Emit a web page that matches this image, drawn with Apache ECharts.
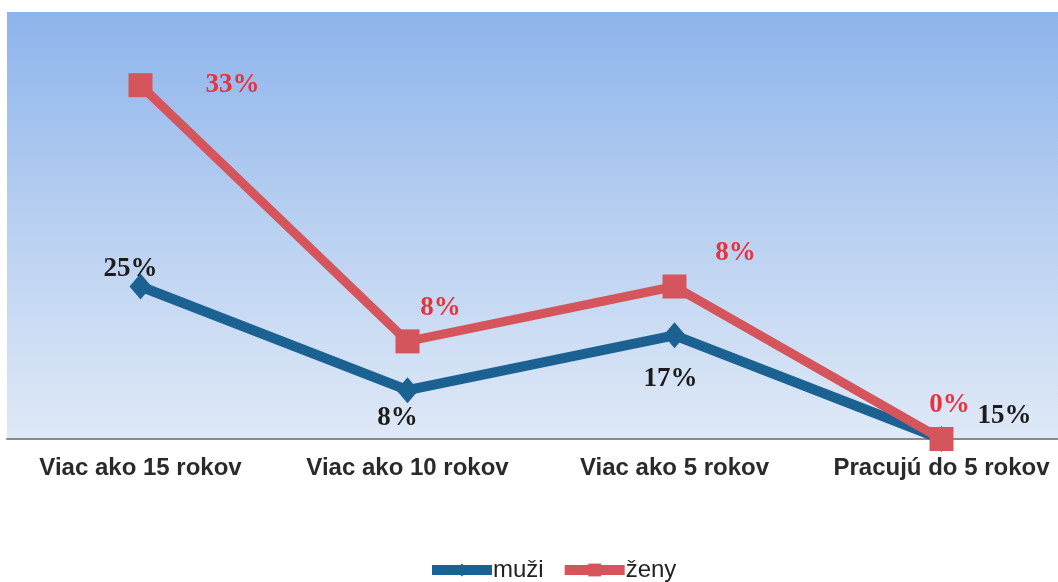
<!DOCTYPE html>
<html>
<head>
<meta charset="utf-8">
<script src="https://cdn.jsdelivr.net/npm/echarts@6/dist/echarts.min.js"></script>
<style>
html, body { margin: 0; padding: 0; background: #fff; }
#main { width: 1058px; height: 582px; }
</style>
</head>
<body>
<div id="main"></div>
<script>
// kategórie a hodnoty (skladané čiary)
var categories = ['Viac ako 15 rokov', 'Viac ako 10 rokov', 'Viac ako 5 rokov', 'Pracujú do 5 rokov'];
var muzi = [25, 8, 17, 0];
var zeny = [33, 8, 8, 0];
var muziLabels = ['25%', '8%', '17%', '15%'];
var zenyLabels = ['33%', '8%', '8%', '0%'];

// posun popiskov od bodu (layout)
var muziOffsets = [[-10, -17], [-10, 28], [-4, 44], [63, -23]];
var zenyOffsets = [[92, 0], [33, -33], [61, -33], [8, -34]];

function buildData(values, texts, offsets, color) {
	return values.map(function (v, i) {
		return {
			value: v,
			label: {
				show: true,
				position: 'inside',
				offset: offsets[i],
				formatter: texts[i],
				color: color,
				fontFamily: 'Liberation Serif',
				fontWeight: 'bold',
				fontSize: 27
			}
		};
	});
}

var myChart = echarts.init(document.getElementById('main'));
var option = {
	animation: false,
	grid: {
		left: 7,
		top: 12,
		width: 1068,
		bottom: 143,
		outerBoundsMode: 'none',
		containLabel: false,
		show: true,
		borderWidth: 0,
		backgroundColor: {
			type: 'linear', x: 0, y: 0, x2: 0, y2: 1,
			colorStops: [
				{offset: 0, color: '#8db4ec'},
				{offset: 0.5, color: '#b9d0f1'},
				{offset: 1, color: '#dfe9f6'}
			]
		}
	},
	legend: {
		top: 553,
		left: 422,
		itemWidth: 60,
		itemHeight: 16,
		itemGap: 16,
		lineStyle: {width: 10},
		textStyle: {
			fontFamily: 'Liberation Sans',
			fontSize: 24,
			color: '#222',
			padding: [0, 0, 0, -4]
		},
		data: ['muži', 'ženy']
	},
	xAxis: {
		type: 'category',
		data: categories,
		boundaryGap: true,
		axisLine: {lineStyle: {color: '#8a8a8a', width: 2}},
		axisTick: {show: false},
		axisLabel: {
			interval: 0,
			margin: 17,
			color: '#2a2a2a',
			fontFamily: 'Liberation Sans',
			fontWeight: 'bold',
			fontSize: 24
		}
	},
	yAxis: {
		type: 'value',
		min: 0,
		max: 70,
		show: false,
		splitLine: {show: false}
	},
	series: [
		{
			name: 'muži',
			type: 'line',
			stack: 'spolu',
			data: buildData(muzi, muziLabels, muziOffsets, '#1c1c1c'),
			symbol: 'diamond',
			symbolSize: [22, 26],
			lineStyle: {color: '#1b6191', width: 10},
			itemStyle: {color: '#1b6191'},
			z: 2
		},
		{
			name: 'ženy',
			type: 'line',
			stack: 'spolu',
			data: buildData(zeny, zenyLabels, zenyOffsets, '#e8323c'),
			symbol: 'rect',
			symbolSize: 24,
			lineStyle: {color: '#d4555b', width: 9},
			itemStyle: {color: '#d4555b'},
			z: 3
		}
	]
};
myChart.setOption(option);
</script>
</body>
</html>
